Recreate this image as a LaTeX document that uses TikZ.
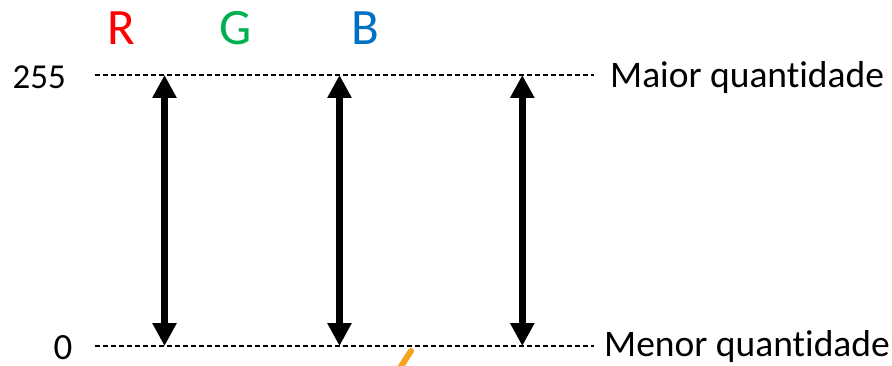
\documentclass[tikz,border=0pt]{standalone}
\usepackage{fontspec}
\setmainfont[RawFeature=-liga]{Carlito}
\usetikzlibrary{arrows.meta}
\definecolor{rred}{RGB}{255,0,0}
\definecolor{ggreen}{RGB}{0,176,80}
\definecolor{bblue}{RGB}{0,112,192}
\definecolor{oorange}{RGB}{247,163,30}
\tikzset{
  lvl/.style={draw=black, line width=2pt, dash pattern=on 4.5pt off 3.5pt},
  dbl/.style={line width=6.5pt, {Triangle[width=23pt,length=23pt]}-{Triangle[width=23pt,length=23pt]}},
  chan/.style={anchor=base, inner sep=0pt, font=\fontsize{51}{55}\selectfont},
  lbl/.style={inner sep=0pt, font=\fontsize{37.5}{41}\selectfont}
}
\begin{document}
\begin{tikzpicture}[x=1pt,y=1pt]
\useasboundingbox (0,0) rectangle (892,365);
\clip (0,0) rectangle (892,365);
% channel letters
\node[chan, text=rred] (r) at (121.5,320) {R};
\node[chan, text=ggreen] (g) at (236,320) {G};
\node[chan, text=bblue] (b) at (365,320) {B};
% level lines
\coordinate (tl) at (95,289.5);
\coordinate (tr) at (594,289.5);
\coordinate (bl) at (95,19);
\coordinate (br) at (594,19);
\draw[lvl] (tl) -- (tr);
\draw[lvl] (bl) -- (br);
% value labels
\node[lbl, anchor=base east, font=\fontsize{35}{40}\selectfont] (v255) at (66,276.7) {255};
\node[lbl, anchor=base, font=\fontsize{37}{42}\selectfont] (v0) at (63,6) {0};
\node[lbl, anchor=base west] (maior) at (610,277.5) {Maior quantidade};
\node[lbl, anchor=base west] (menor) at (604,8.5) {Menor quantidade};
% arrows
\coordinate (a1t) at (164.5,290);
\coordinate (a1b) at (164.5,19);
\coordinate (a2t) at (339.5,290);
\coordinate (a2b) at (339.5,19);
\coordinate (a3t) at (522.3,290);
\coordinate (a3b) at (522.3,19);
\draw[dbl] (a1b) -- (a1t);
\draw[dbl] (a2b) -- (a2t);
\draw[dbl] (a3b) -- (a3t);
% orange stroke (cut off)
\coordinate (o1) at (398,-6);
\coordinate (o2) at (411,14);
\draw[oorange, line width=6pt, line cap=round] (o1) -- (o2);
\end{tikzpicture}
\end{document}
